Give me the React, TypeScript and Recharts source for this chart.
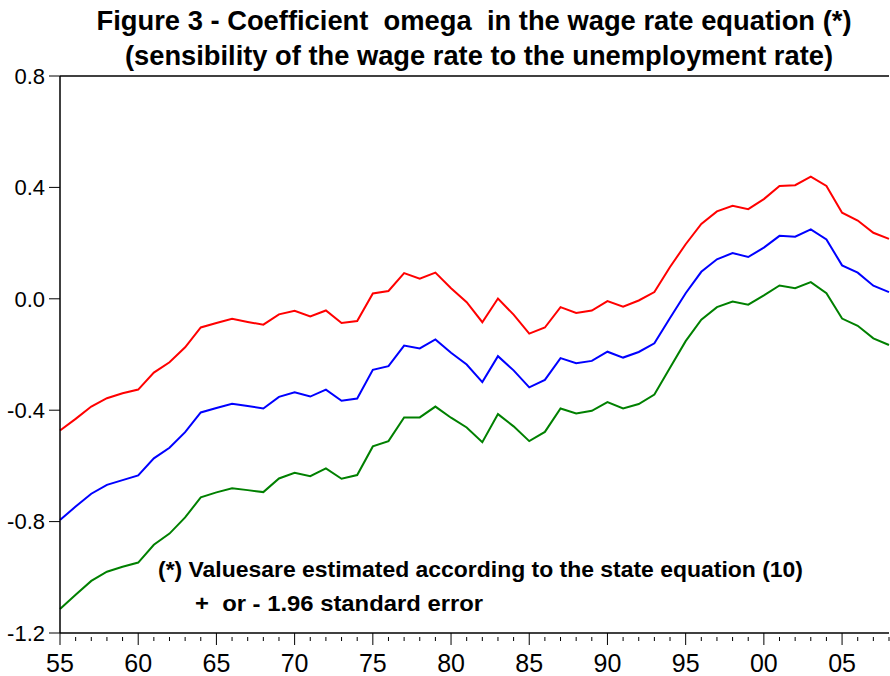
import React from "react";
import { Line, LineChart, ReferenceLine, XAxis, YAxis } from "recharts";

if (typeof document !== "undefined") document.body.style.margin = "0";

const years = [
  1955, 1956, 1957, 1958, 1959, 1960, 1961, 1962, 1963, 1964, 1965, 1966, 1967, 1968,
  1969, 1970, 1971, 1972, 1973, 1974, 1975, 1976, 1977, 1978, 1979, 1980, 1981, 1982,
  1983, 1984, 1985, 1986, 1987, 1988, 1989, 1990, 1991, 1992, 1993, 1994, 1995, 1996,
  1997, 1998, 1999, 2000, 2001, 2002, 2003, 2004, 2005, 2006, 2007, 2008,
];

// upper band (+1.96 se)
const upper = [
  -0.473, -0.431, -0.387, -0.357, -0.339, -0.326, -0.265, -0.228, -0.174, -0.103, -0.087,
  -0.072, -0.083, -0.093, -0.056, -0.043, -0.063, -0.042, -0.087, -0.08, 0.019, 0.028,
  0.092, 0.072, 0.094, 0.038, -0.012, -0.084, 0.001, -0.057, -0.125, -0.103, -0.03,
  -0.051, -0.042, -0.008, -0.028, -0.006, 0.024, 0.114, 0.196, 0.269, 0.314, 0.334,
  0.322, 0.358, 0.405, 0.408, 0.439, 0.405, 0.309, 0.281, 0.237, 0.215,
];

// omega estimate
const omega = [
  -0.794, -0.746, -0.7, -0.668, -0.651, -0.634, -0.573, -0.535, -0.479, -0.408, -0.392,
  -0.377, -0.385, -0.394, -0.352, -0.336, -0.351, -0.326, -0.366, -0.358, -0.255, -0.242,
  -0.168, -0.178, -0.146, -0.194, -0.236, -0.299, -0.206, -0.257, -0.318, -0.291, -0.213,
  -0.231, -0.223, -0.19, -0.211, -0.191, -0.16, -0.069, 0.02, 0.097, 0.142, 0.164, 0.15,
  0.184, 0.226, 0.223, 0.249, 0.213, 0.12, 0.094, 0.047, 0.024,
];

// lower band (-1.96 se)
const lower = [
  -1.114, -1.063, -1.013, -0.98, -0.962, -0.947, -0.883, -0.843, -0.785, -0.713, -0.695,
  -0.68, -0.687, -0.694, -0.645, -0.625, -0.637, -0.609, -0.646, -0.633, -0.53, -0.511,
  -0.426, -0.426, -0.387, -0.427, -0.462, -0.515, -0.414, -0.458, -0.511, -0.478, -0.394,
  -0.412, -0.402, -0.371, -0.394, -0.378, -0.344, -0.248, -0.152, -0.075, -0.03, -0.01,
  -0.021, 0.012, 0.048, 0.038, 0.06, 0.02, -0.071, -0.097, -0.142, -0.166,
];

const yTicks = [-1.2, -0.8, -0.4, 0.0, 0.4, 0.8];

const data = years.map((year, i) => ({ year, upper: upper[i], omega: omega[i], lower: lower[i] }));

const FONT = "'Liberation Sans', Arial, sans-serif";
const AXIS_Y = 633;
const NB = "\u00a0";

function YearTick(props: any) {
  const { x, payload } = props;
  const yr = payload.value as number;
  const major = yr % 5 === 0;
  return (
    <g>
      <line
        x1={x}
        x2={x}
        y1={major ? AXIS_Y : AXIS_Y + 4}
        y2={major ? AXIS_Y + 12 : AXIS_Y + 8}
        stroke="#000"
        strokeWidth={1}
      />
      {major && (
        <text x={x} y={672} textAnchor="middle" fontSize={25} fontFamily={FONT} fill="#000">
          {String(yr % 100).padStart(2, "0")}
        </text>
      )}
    </g>
  );
}

export default function App() {
  return (
    <div style={{ position: "relative", width: 890, height: 676, background: "#fff" }}>
      <LineChart width={890} height={676} data={data} margin={{ top: 76, right: 1, left: 0, bottom: 0 }}>
        <XAxis
          dataKey="year"
          type="number"
          domain={[1955, 2008]}
          ticks={years}
          interval={0}
          height={43}
          tickLine={false}
          axisLine={{ stroke: "#000", strokeWidth: 1.5 }}
          tick={<YearTick />}
        />
        <YAxis
          type="number"
          domain={[-1.2, 0.8]}
          ticks={yTicks}
          width={60}
          tickSize={11}
          tickMargin={4}
          tickFormatter={(v: number) => v.toFixed(1)}
          tickLine={{ stroke: "#000" }}
          axisLine={{ stroke: "#000", strokeWidth: 1.5 }}
          tick={{ fill: "#000", fontSize: 22, fontFamily: FONT }}
        />
        <ReferenceLine y={0.8} stroke="#000" strokeWidth={1.5} />
        <Line dataKey="upper" stroke="#ff0000" strokeWidth={2} dot={false} isAnimationActive={false} />
        <Line dataKey="omega" stroke="#0000ff" strokeWidth={2} dot={false} isAnimationActive={false} />
        <Line dataKey="lower" stroke="#008000" strokeWidth={2} dot={false} isAnimationActive={false} />
      </LineChart>
      <svg
        width={890}
        height={676}
        style={{ position: "absolute", left: 0, top: 0, pointerEvents: "none" }}
      >
        <g fontFamily={FONT} fontWeight="bold" fill="#000">
          <text x={474} y={30} fontSize={27} textAnchor="middle" textLength={755} lengthAdjust="spacingAndGlyphs">
            {`Figure 3 - Coefficient${NB} omega${NB} in the wage rate equation (*)`}
          </text>
          <text x={479} y={65} fontSize={27} textAnchor="middle" textLength={708} lengthAdjust="spacingAndGlyphs">
            {"(sensibility of the wage rate to the unemployment rate)"}
          </text>
          <text x={158} y={577} fontSize={22} textLength={645} lengthAdjust="spacingAndGlyphs">
            {"(*) Valuesare estimated according to the state equation (10)"}
          </text>
          <text x={195} y={611} fontSize={22} textLength={288} lengthAdjust="spacingAndGlyphs">
            {`+${NB} or - 1.96 standard error`}
          </text>
        </g>
      </svg>
    </div>
  );
}
